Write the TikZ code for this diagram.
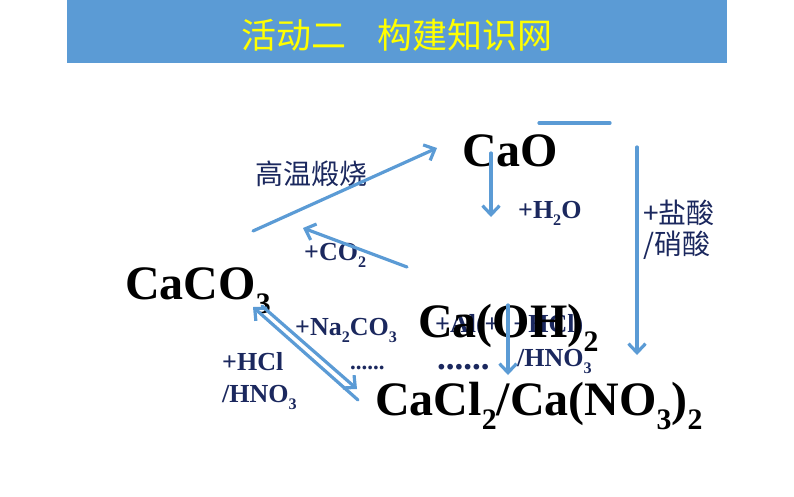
\documentclass[tikz,border=0pt]{standalone}
\usepackage{fontspec}
\usepackage{graphicx}
\usetikzlibrary{arrows.meta}
\setmainfont{Liberation Serif}
\newfontfamily\cjk{Noto Sans CJK SC}

\definecolor{barblue}{RGB}{91,155,213}
\definecolor{arrowblue}{RGB}{91,155,213}
\definecolor{labelnavy}{RGB}{27,40,94}
\definecolor{titleyellow}{RGB}{255,255,0}

\newcommand{\chsub}[1]{\raisebox{-0.3em}{\scalebox{0.62}{#1}}}

\tikzset{
  formula/.style={inner sep=0pt, anchor=base west, font=\fontsize{48}{50}\selectfont\bfseries},
  reagent/.style={inner sep=0pt, anchor=base west, text=labelnavy, font=\fontsize{26}{28}\selectfont\bfseries},
  cjklabel/.style={inner sep=0pt, anchor=west, text=labelnavy, font=\fontsize{28}{30}\selectfont\cjk},
  flow/.style={draw=arrowblue, line width=3.2pt, -{Straight Barb[length=9pt,width=17pt]}}
}

\begin{document}
\begin{tikzpicture}[line cap=round, line join=round, x=1pt, y=-1pt]
                \useasboundingbox (0,0) rectangle (794,496);

                % title bar
                \fill[barblue] (67,0) rectangle (727,63);
                \node[text=titleyellow, font=\fontsize{35}{37}\selectfont\cjk] (title) at (397,35) {活动二\hspace{0.9em}构建知识网};

                % substances
                \node[formula] (cao) at (462,166) {CaO};
                \node[formula] (caco3) at (125,299) {CaCO\chsub{3}};
                \node[reagent] (acidmix) at (435,332) {+Al(+\hspace{14pt}+HCl)};
                \node[formula] (caoh2) at (418,337) {Ca(OH)\chsub{2}};
                \node[formula] (salt) at (375,415) {CaCl\chsub{2}/Ca(NO\chsub{3})\chsub{2}};

                % reaction labels
                \node[cjklabel] (heatlbl) at (255,174) {高温煅烧};
                \node[reagent] (co2lbl) at (304,260) {+CO\chsub{2}};
                \node[reagent] (h2olbl) at (518,218) {+H\chsub{2}O};
                \node[cjklabel] (acidlbl) at (643,213) {+盐酸};
                \node[cjklabel] (acidlblb) at (643,245) {/硝酸};
                \node[reagent] (na2co3lbl) at (295,335) {+Na\chsub{2}CO\chsub{3}};
                \node[reagent, font=\fontsize{23}{25}\selectfont\bfseries] (dotsa) at (350,369) {......};
                \node[reagent] (hcllbl) at (222,370) {+HCl};
                \node[reagent] (hno3lbl) at (222,402) {/HNO\chsub{3}};
                \node[reagent, font=\fontsize{35}{37}\selectfont\bfseries] (dotsb) at (437,369) {......};
                \node[reagent] (hno3lblb) at (517,366) {/HNO\chsub{3}};

                % arrow ends
                \coordinate (heatS) at (253,231);
                \coordinate (heatE) at (437,148);
                \coordinate (co2S) at (407,267);
                \coordinate (co2E) at (303,228);
                \coordinate (h2oS) at (491,153);
                \coordinate (h2oE) at (491,217);
                \coordinate (barS) at (539,123);
                \coordinate (barE) at (610,123);
                \coordinate (acidS) at (637,147);
                \coordinate (acidE) at (637,355);
                \coordinate (backS) at (358,400);
                \coordinate (backE) at (253,307);
                \coordinate (fwdS) at (262,306);
                \coordinate (fwdE) at (357,389);
                \coordinate (limeS) at (508,305);
                \coordinate (limeE) at (508,375);

                \draw[flow] (heatS) -- (heatE);
                \draw[flow] (co2S) -- (co2E);
                \draw[flow] (h2oS) -- (h2oE);
                \draw[draw=arrowblue, line width=3.2pt] (barS) -- (barE);
                \draw[flow] (acidS) -- (acidE);
                \draw[flow] (backS) -- (backE);
                \draw[flow] (fwdS) -- (fwdE);
                \draw[flow] (limeS) -- (limeE);

\end{tikzpicture}
\end{document}
